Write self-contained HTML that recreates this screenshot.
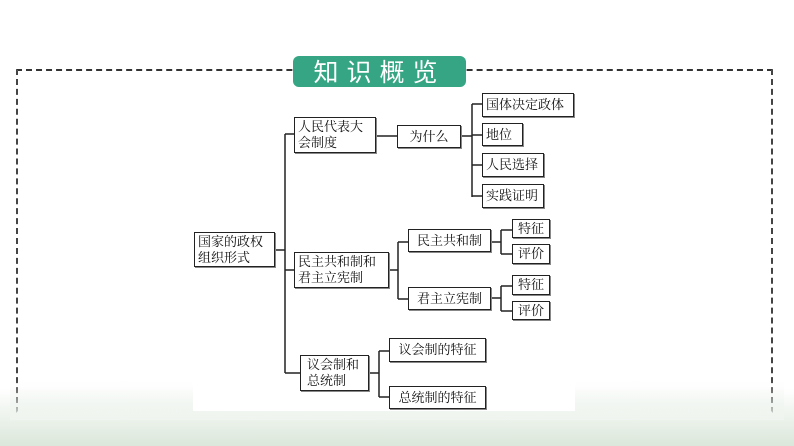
<!DOCTYPE html>
<html><head><meta charset="utf-8"><style>
html,body{margin:0;padding:0}
body{width:794px;height:446px;position:relative;overflow:hidden;font-family:"Liberation Serif","Noto Serif CJK SC",serif;background:linear-gradient(to bottom,#fff 0,#fff 388px,#dbe7da 446px)}
.b{position:absolute;border:1.5px solid #222;background:#fff;box-sizing:border-box;font-size:13px;line-height:16px;color:#111;padding:1px 3px;white-space:nowrap;display:flex;align-items:center;box-shadow:1px 1px 0 #888}
.c{justify-content:center}
#dash{position:absolute;left:16px;top:69px;width:757px;height:344px;border:2px dashed #333;border-bottom-color:#f4f6f4;box-sizing:border-box;border-left-color:#444;border-right-color:#444}
#fade{position:absolute;left:10px;top:380px;width:774px;height:40px;background:linear-gradient(to bottom,rgba(255,255,255,0),rgba(240,245,240,0.9))}
#wb{position:absolute;left:193px;top:90px;width:382px;height:321px;background:#fff}
#ban{position:absolute;left:293px;top:56px;width:173px;height:31px;background:#36a583;border-radius:6px;color:#fff;font-size:25px;line-height:31px;text-align:center;letter-spacing:8px;font-family:"Noto Sans CJK SC",sans-serif}
</style></head><body>
<div id="dash"></div>
<div id="fade"></div>
<div id="wb"></div>
<div id="ban">知识概览</div>
<svg width="794" height="446" style="position:absolute;left:0;top:0" fill="none" stroke="#222" stroke-width="1.5">
<path d="M275 250H285M285 134V373M285 134H294M285 270H294M285 373H300"/>
<path d="M376 136H397M461 136H472M472 104V197M472 104H482M472 135H482M472 165H482M472 196H482"/>
<path d="M389 270H398M398 242V299M398 242H408M398 299H408"/>
<path d="M491 242H501M501 230V254M501 230H512M501 254H512"/>
<path d="M491 298H501M501 286V311M501 286H512M501 311H512"/>
<path d="M369 373H379M379 351V397M379 351H389M379 397H389"/>
</svg>
<div class="b" style="left:194px;top:232px;width:81px;height:35px;white-space:normal;line-height:16px">国家的政权组织形式</div>
<div class="b" style="left:294px;top:117px;width:82px;height:36px;white-space:normal">人民代表大会制度</div>
<div class="b c" style="left:397px;top:125px;width:64px;height:23px">为什么</div>
<div class="b" style="left:482px;top:93px;width:92px;height:24px">国体决定政体</div>
<div class="b" style="left:482px;top:123px;width:41px;height:23px">地位</div>
<div class="b" style="left:482px;top:153px;width:62px;height:24px">人民选择</div>
<div class="b" style="left:482px;top:184px;width:62px;height:24px">实践证明</div>
<div class="b" style="left:294px;top:252px;width:95px;height:36px;white-space:normal">民主共和制和君主立宪制</div>
<div class="b c" style="left:408px;top:229px;width:83px;height:23px">民主共和制</div>
<div class="b c" style="left:408px;top:287px;width:83px;height:23px">君主立宪制</div>
<div class="b c" style="left:512px;top:219px;width:38px;height:19px">特征</div>
<div class="b c" style="left:512px;top:244px;width:38px;height:20px">评价</div>
<div class="b c" style="left:512px;top:275px;width:38px;height:20px">特征</div>
<div class="b c" style="left:512px;top:301px;width:38px;height:19px">评价</div>
<div class="b" style="left:300px;top:355px;width:69px;height:36px;white-space:normal;padding-left:6px">议会制和总统制</div>
<div class="b c" style="left:389px;top:338px;width:97px;height:24px">议会制的特征</div>
<div class="b c" style="left:389px;top:386px;width:97px;height:23px">总统制的特征</div>
</body></html>
